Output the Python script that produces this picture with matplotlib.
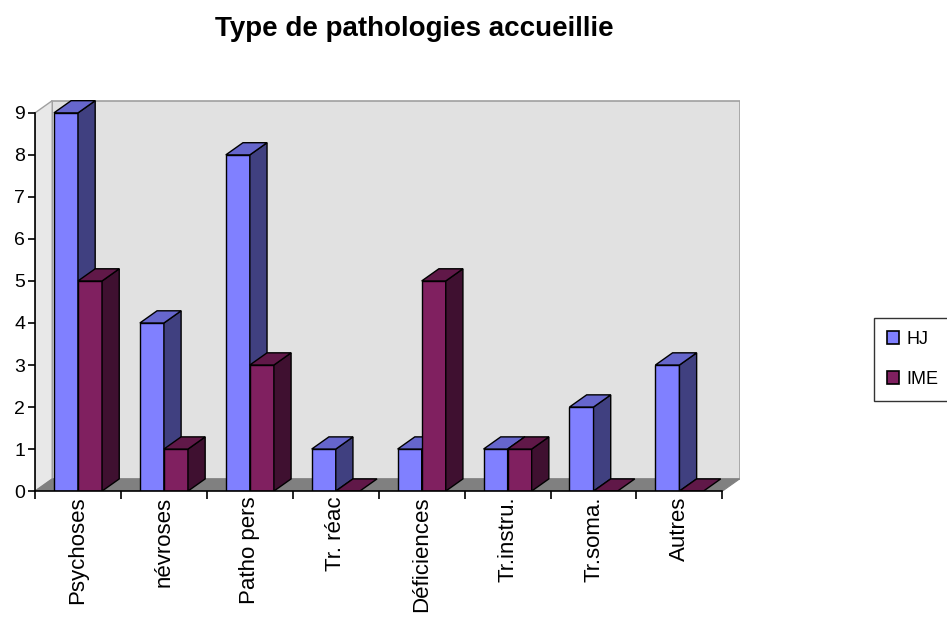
import matplotlib
matplotlib.use("Agg")
import matplotlib.pyplot as plt
from matplotlib.patches import Polygon, Patch

categories = ["Psychoses", "névroses", "Patho pers", "Tr. réac", "Déficiences",
              "Tr.instru.", "Tr.soma.", "Autres"]
hj = [9, 4, 8, 1, 1, 1, 2, 3]
ime = [5, 1, 3, 0, 5, 1, 0, 0]
series_names = ["HJ", "IME"]
yticks = list(range(0, 10))

FONT = ["Liberation Sans", "DejaVu Sans"]
plt.rcParams['font.family'] = FONT

fig = plt.figure(figsize=(9.47, 6.24), dpi=100)
ax = fig.add_axes([0.037, 0.213, 0.744, 0.627])

n = len(categories)
ymax = max(yticks)
dx, dy = 0.2, 0.29
ax.set_xlim(0, n + dx)
ax.set_ylim(0, ymax + dy + 0.02)

# walls
ax.add_patch(Polygon([(dx, dy), (n + dx, dy), (n + dx, ymax + dy), (dx, ymax + dy)],
                     closed=True, facecolor="#E1E1E1", edgecolor="#A0A0A0", lw=1.2, zorder=0))
ax.add_patch(Polygon([(0, 0), (dx, dy), (dx, ymax + dy), (0, ymax)],
                     closed=True, facecolor="#E8E8E8", edgecolor="#A0A0A0", lw=1.0, zorder=0))
ax.add_patch(Polygon([(0, 0), (n, 0), (n + dx, dy), (dx, dy)],
                     closed=True, facecolor="#808080", edgecolor="#808080", lw=0.8, zorder=0.5))

styles = [
    dict(front="#8080FF", side="#404080", top="#6666CC"),
    dict(front="#802060", side="#3F1030", top="#601848"),
]
width = 0.28
offsets = [0.22, 0.5]
z = 1
for i in range(n):
    for s, vals in enumerate([hj, ime]):
        v = vals[i]
        x0 = i + offsets[s]
        x1 = x0 + width
        st = styles[s]
        if v > 0:
            ax.bar(x0, v, width=width, align="edge", color=st["front"],
                   edgecolor="black", linewidth=1.0, zorder=z)
            ax.add_patch(Polygon([(x1, 0), (x1 + dx, dy), (x1 + dx, v + dy), (x1, v)],
                                 closed=True, facecolor=st["side"], edgecolor="black",
                                 lw=1.0, zorder=z))
        ax.add_patch(Polygon([(x0, v), (x0 + dx, v + dy), (x1 + dx, v + dy), (x1, v)],
                             closed=True, facecolor=st["top"], edgecolor="black",
                             lw=1.0, zorder=z))
        z += 1

for sp in ["top", "right"]:
    ax.spines[sp].set_visible(False)
ax.spines["left"].set_bounds(0, ymax)
ax.spines["bottom"].set_bounds(0, n)
ax.spines["left"].set_linewidth(1.2)
ax.spines["bottom"].set_linewidth(1.2)
ax.spines["left"].set_zorder(50)
ax.spines["bottom"].set_zorder(50)

ax.set_yticks(yticks)
ax.set_yticklabels([str(t) for t in yticks], fontsize=14)
ax.tick_params(axis="y", length=5, width=1.2, pad=2)

ax.set_xticks(range(0, n + 1))
ax.set_xticklabels([""] * (n + 1))
ax.tick_params(axis="x", which="major", length=6, width=1.2, direction="out")
ax.set_xticks([i + 0.5 for i in range(n)], minor=True)
ax.set_xticklabels(categories, minor=True, rotation=90, fontsize=16, va="top", ha="center")
ax.tick_params(axis="x", which="minor", length=0, pad=4)

fig.text(0.438, 0.953, "Type de pathologies accueillie", ha="center", va="center",
         fontsize=20, fontweight="bold")

handles = [Patch(facecolor=styles[0]["front"], edgecolor="black", lw=1.2),
           Patch(facecolor=styles[1]["front"], edgecolor="black", lw=1.2)]
leg = fig.legend(handles, series_names, loc="upper left",
                 bbox_to_anchor=(874 / 947, 1 - 318 / 624), fontsize=13,
                 frameon=True, fancybox=False, edgecolor="black",
                 handlelength=0.7, handleheight=0.7, handletextpad=0.4,
                 borderpad=0.7, labelspacing=1.3, borderaxespad=0.0)
leg.get_frame().set_linewidth(1.0)

fig.savefig("out.png", dpi=100)
